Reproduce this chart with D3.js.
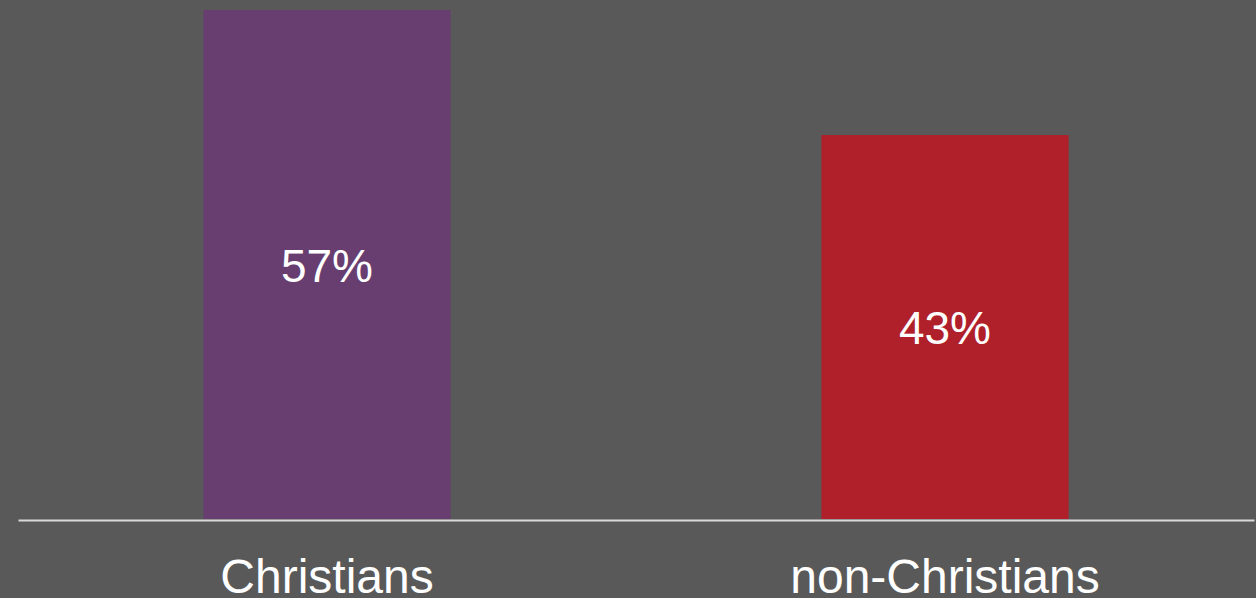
<!DOCTYPE html>
<html>
<head>
<meta charset="utf-8">
<script src="https://cdn.jsdelivr.net/npm/d3@7"></script>
<style>
  html, body { margin: 0; padding: 0; background: #595959; }
  svg { display: block; }
</style>
</head>
<body>
<div id="graph"></div>
<script>
// data
var categories = ["Christians", "non-Christians"];
var shares     = [57, 43];
var colors     = ["#673e6f", "#b0202b"];

var width  = 1256,
    height = 598,
    base   = 519;

var x = d3.scaleBand().domain(categories).range([18, 1254]).paddingInner(0.6).paddingOuter(0.3),
    y = d3.scaleLinear().domain([0, d3.max(shares)]).range([base, 10]);

var svg = d3.select("#graph")
  .append("svg")
  .attr("width", width)
  .attr("height", height);

svg.append("rect")
  .attr("width", width)
  .attr("height", height)
  .attr("fill", "#595959");

var data = categories.map(function (c, i) { return {name: c, value: shares[i], color: colors[i]}; });

svg.selectAll("rect.bar")
  .data(data)
  .enter()
  .append("rect")
  .attr("class", "bar")
  .attr("x", function (d) { return x(d.name); })
  .attr("width", x.bandwidth())
  .attr("y", function (d) { return y(d.value); })
  .attr("height", function (d) { return base - y(d.value); })
  .attr("fill", function (d) { return d.color; });

// value labels in the middle of each bar
svg.selectAll("text.val")
  .data(data)
  .enter()
  .append("text")
  .attr("class", "val")
  .attr("x", function (d) { return x(d.name) + x.bandwidth() / 2; })
  .attr("y", function (d) { return (y(d.value) + base) / 2 + 17; })
  .attr("text-anchor", "middle")
  .attr("font-family", "Liberation Sans, Arial, sans-serif")
  .attr("font-size", "46px")
  .attr("fill", "#ffffff")
  .text(function (d) { return d.value + "%"; });

// x axis
var xAxis = d3.axisBottom(x).tickSize(0).tickPadding(0);
var gx = svg.append("g")
  .attr("transform", "translate(0," + (base + 1) + ")")
  .call(xAxis);
gx.select(".domain")
  .attr("stroke", "#d9d9d9")
  .attr("stroke-width", 2);
gx.selectAll("text")
  .attr("y", 73)
  .attr("dy", 0)
  .attr("font-family", "Liberation Sans, Arial, sans-serif")
  .attr("font-size", "48px")
  .attr("fill", "#ffffff");
</script>
</body>
</html>
